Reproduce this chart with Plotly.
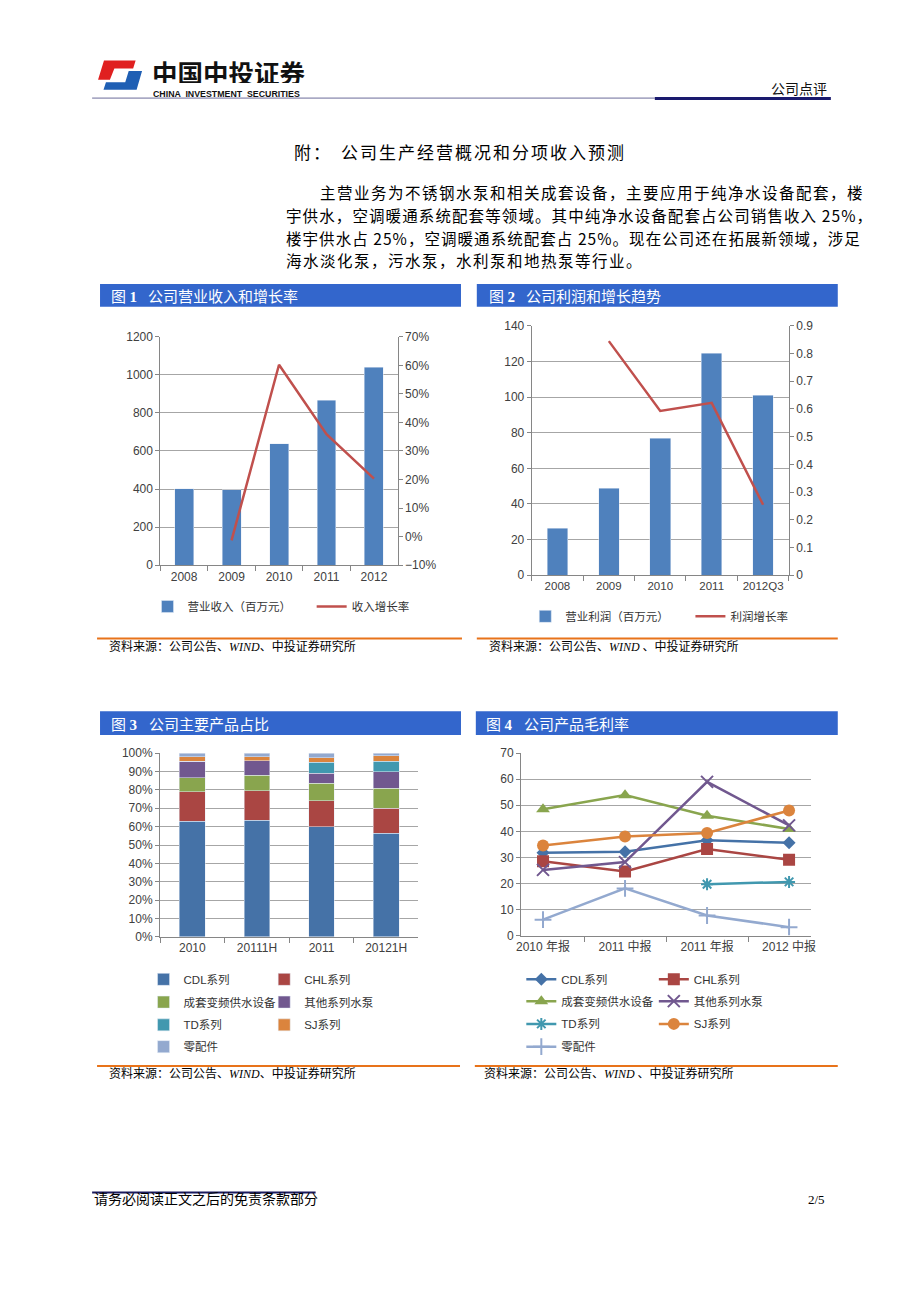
import plotly.graph_objects as go

# The page body has an 8px default margin, so the figure is sized and offset to fill 920x1300 exactly.
PAGE_OFF = 8
FW, FH = 904, 1284


def px(x):
    return (x - PAGE_OFF) / FW


def py(y):
    return 1 - (y - PAGE_OFF) / FH


# ---------------- data ----------------
rev_years = ["2008", "2009", "2010", "2011", "2012"]
revenue = [403, 396, 637, 867, 1039]
rev_growth = [None, -0.013, 0.602, 0.359, 0.203]

profit_years = ["2008", "2009", "2010", "2011", "2012Q3"]
profit = [26.3, 48.7, 77.0, 124.6, 101.0]
profit_growth = [None, 0.845, 0.593, 0.622, 0.254]

product_names = ["CDL系列", "CHL系列", "成套变频供水设备", "其他系列水泵", "TD系列", "SJ系列", "零配件"]

share_periods = ["2010", "20111H", "2011", "20121H"]
share_cdl = [63.0, 63.5, 60.0, 56.5]
share_chl = [16.0, 16.0, 14.0, 13.5]
share_set = [7.5, 8.5, 9.5, 11.0]
share_other = [9.0, 8.0, 5.5, 9.0]
share_td = [0.0, 0.0, 6.0, 5.5]
share_sj = [2.5, 2.0, 2.5, 3.0]
share_parts = [2.0, 2.0, 2.5, 1.5]

margin_periods = ["2010 年报", "2011 中报", "2011 年报", "2012 中报"]
margin_cdl = [31.8, 32.2, 36.6, 35.6]
margin_chl = [28.5, 24.6, 33.2, 29.1]
margin_set = [48.5, 53.9, 46.0, 40.9]
margin_other = [25.2, 28.2, 59.0, 42.3]
margin_td = [None, None, 19.7, 20.6]
margin_sj = [34.6, 38.0, 39.4, 48.0]
margin_parts = [6.1, 18.1, 7.7, 3.2]

# ---------------- styles ----------------
CJK = "Noto Sans CJK SC"
LAT = "Liberation Sans, Arial, Noto Sans CJK SC"
SERIF = "Liberation Serif, Noto Sans CJK SC"
TXT = "#404040"
GRID = "#A6A6A6"
AXIS = "#868686"
prod_colors = ["#4572A7", "#AA4643", "#89A54E", "#71588F", "#4198AF", "#DB843D", "#93A9CF"]
prod_symbols = ["diamond", "square", "triangle-up", "x-thin", "asterisk", "circle", "cross-thin"]
prod_sizes = [10, 12, 12, 12, 10, 12, 12]
LEG_SIZE = 11.5

fig = go.Figure()
legends = {}


def add_legend(idx, x, y, size=LEG_SIZE):
    key = "legend" if idx == 1 else "legend%d" % idx
    legends[key] = dict(
        x=px(x), y=py(y), xanchor="left", yanchor="middle", orientation="h",
        bgcolor="rgba(0,0,0,0)", borderwidth=0, itemwidth=30,
        font=dict(family=LAT, size=size, color="#333333"),
    )
    return key


# ---------------- chart 1 ----------------
fig.add_trace(go.Bar(x=rev_years, y=revenue, name="营业收入（百万元）", marker_color="#4F81BD",
                     xaxis="x", yaxis="y", legend=add_legend(1, 144, 606)))
fig.add_trace(go.Scatter(x=rev_years, y=rev_growth, mode="lines", name="收入增长率",
                         line=dict(color="#C0504D", width=2.5), xaxis="x", yaxis="y2",
                         legend=add_legend(2, 310, 606)))

# ---------------- chart 2 ----------------
fig.add_trace(go.Bar(x=profit_years, y=profit, name="营业利润（百万元）", marker_color="#4F81BD",
                     xaxis="x2", yaxis="y3", legend=add_legend(3, 526, 616)))
fig.add_trace(go.Scatter(x=profit_years, y=profit_growth, mode="lines", name="利润增长率",
                         line=dict(color="#C0504D", width=2.5), xaxis="x2", yaxis="y4",
                         legend=add_legend(4, 693, 616)))

# ---------------- chart 3 ----------------
share_series = [share_cdl, share_chl, share_set, share_other, share_td, share_sj, share_parts]
leg3_pos = [(140, 983), (262, 983), (140, 1006), (262, 1006), (140, 1029), (262, 1029), (140, 1051)]
for i, (nm, vals) in enumerate(zip(product_names, share_series)):
    fig.add_trace(go.Bar(x=share_periods, y=vals, name=nm, marker_color=prod_colors[i],
                         xaxis="x3", yaxis="y5",
                         legend=add_legend(5 + i, leg3_pos[i][0], leg3_pos[i][1])))

# ---------------- chart 4 ----------------
margin_series = [margin_cdl, margin_chl, margin_set, margin_other, margin_td, margin_sj, margin_parts]
leg4_pos = [(522, 983), (656, 983), (522, 1005), (656, 1005), (522, 1028), (656, 1028), (522, 1051)]
for i, (nm, vals) in enumerate(zip(product_names, margin_series)):
    thin = prod_symbols[i] in ("x-thin", "asterisk", "cross-thin")
    fig.add_trace(go.Scatter(
        x=margin_periods, y=vals, name=nm, mode="lines+markers",
        line=dict(color=prod_colors[i], width=2.5),
        marker=dict(symbol=prod_symbols[i], size=prod_sizes[i], color=prod_colors[i],
                    line=dict(color=prod_colors[i], width=2 if thin else 0)),
        xaxis="x4", yaxis="y6",
        legend=add_legend(12 + i, leg4_pos[i][0], leg4_pos[i][1])))

# ---------------- axes ----------------
tickfont = dict(family=LAT, size=12, color=TXT)


def xcat(domain, anchor, size=12):
    return dict(domain=domain, anchor=anchor, type="category", showline=True, linecolor=AXIS,
                ticks="outside", tickson="boundaries", ticklen=5, tickcolor=AXIS, tickangle=0,
                showgrid=False, tickfont=dict(family=LAT, size=size, color=TXT), fixedrange=True)


def yleft(domain, anchor, rng, dtick, **kw):
    d = dict(domain=domain, anchor=anchor, range=rng, dtick=dtick, showline=True, linecolor=AXIS,
             ticks="outside", ticklen=4, tickcolor=AXIS, showgrid=True, gridcolor=GRID,
             zeroline=False, tickfont=tickfont, fixedrange=True)
    d.update(kw)
    return d


def yright(overlay, anchor, rng, dtick, **kw):
    d = dict(overlaying=overlay, anchor=anchor, side="right", range=rng, dtick=dtick,
             showline=True, linecolor=AXIS, ticks="outside", ticklen=4, tickcolor=AXIS,
             showgrid=False, zeroline=False, tickfont=tickfont, fixedrange=True)
    d.update(kw)
    return d


layout_axes = dict(
    xaxis=xcat([px(157), px(397)], "y"),
    yaxis=yleft([py(564.3), py(333.3)], "x", [0, 1200], 200),
    yaxis2=yright("y", "x", [-0.1001, 0.7001], 0.1, tickformat=".0%", tick0=0),
    xaxis2=xcat([px(532.5), px(792.5)], "y3", size=11.5),
    yaxis3=yleft([py(574.3), py(322.3)], "x2", [0, 140], 20),
    yaxis4=yright("y3", "x2", [0, 0.9001], 0.1, tick0=0),
    xaxis3=xcat([px(156.7), px(418)], "y5"),
    yaxis5=yleft([py(940), py(754.3)], "x3", [0, 100.01], 10, ticksuffix="%"),
    xaxis4=xcat([px(521.7), px(815)], "y6"),
    yaxis6=yleft([py(938.7), py(754.3)], "x4", [0, 70.01], 10),
)

# ---------------- shapes ----------------
shapes = []


def line(x0, y0, x1, y1, color, width):
    shapes.append(dict(type="line", xref="paper", yref="paper", x0=px(x0), y0=py(y0),
                       x1=px(x1), y1=py(y1), line=dict(color=color, width=width)))


def rect(x0, y0, x1, y1, color):
    shapes.append(dict(type="rect", xref="paper", yref="paper", x0=px(x0), y0=py(y0),
                       x1=px(x1), y1=py(y1), fillcolor=color, line=dict(width=0)))


def poly(points, color):
    path = "M " + " L ".join("%.5f,%.5f" % (px(a), py(b)) for a, b in points) + " Z"
    shapes.append(dict(type="path", xref="paper", yref="paper", path=path,
                       fillcolor=color, line=dict(width=0)))


# header
poly([(100, 54), (132, 54), (129.5, 62), (110.5, 62), (106, 73.5), (94, 73.5)], "#E02020")
poly([(125, 64.5), (138.5, 64.5), (133, 83.5), (99.5, 83.5), (102, 76), (121.5, 76)], "#1F5FB4")
line(88, 92, 657, 92, "#6B6B9A", 1)
line(657, 92.5, 835, 92.5, "#1A1A6E", 3)

# title bars
BAR_BLUE = "#3366CC"
rect(96, 280, 461, 303, BAR_BLUE)
rect(477, 280, 842, 303, BAR_BLUE)
rect(96, 712, 461, 736, BAR_BLUE)
rect(476, 712, 842, 736, BAR_BLUE)

# source separators
ORANGE = "#E8731A"
line(93, 638.3, 462, 638.3, ORANGE, 2)
line(477, 638.3, 842, 638.3, ORANGE, 2)
line(93, 1070.7, 460, 1070.7, ORANGE, 2)
line(475, 1070.7, 842, 1070.7, ORANGE, 2)

# footer
line(88, 1198.5, 314, 1198.5, "#1A1A5E", 2)

# ---------------- annotations ----------------
annotations = []


def text(x, y, s, size, family=CJK, color="#000000", anchor="left", weight="normal", height=None):
    a = dict(x=px(x), y=py(y), xref="paper", yref="paper", text=s, showarrow=False,
             xanchor=anchor, yanchor="middle",
             font=dict(family=family, size=size, color=color, weight=weight))
    if height:
        a["height"] = height
    annotations.append(a)


def spaced(s, px_gap):
    return "<span style='letter-spacing:%.2fpx'>%s</span>" % (px_gap, s)


text(147, 65, "中国中投证券", 25.5, weight="bold", color="#111111", height=24)
text(148, 87.5, "CHINA  INVESTMENT  SECURITIES", 8.8, family=LAT, weight="bold", color="#111111",
     height=9)
text(833, 82, "公司点评", 14, color="#111111", anchor="right")

text(290, 146, spaced("附：", 2), 17)
text(338, 146, spaced("公司生产经营概况和分项收入预测", 2), 17)

PARA = 15.5
text(316, 187, spaced("主营业务为不锈钢水泵和相关成套设备，主要应用于纯净水设备配套，楼", 1.5), PARA)
text(282, 210.5, spaced("宇供水，空调暖通系统配套等领域。其中纯净水设备配套占公司销售收入 25%，", 1.1), PARA)
text(282, 233.5, spaced("楼宇供水占 25%，空调暖通系统配套占 25%。现在公司还在拓展新领域，涉足", 1.05), PARA)
text(282, 256, spaced("海水淡化泵，污水泵，水利泵和地热泵等行业。", 1.5), PARA)

# bar titles
SER = "<span style='font-family:Liberation Serif'>%s</span>"
for (x1, x2, y, num, title) in [
    (105, 142, 291.5, "1", "公司营业收入和增长率"),
    (487, 525, 291.5, "2", "公司利润和增长趋势"),
    (105, 143, 724, "3", "公司主要产品占比"),
    (484, 523, 724, "4", "公司产品毛利率"),
]:
    text(x1, y, "图 " + SER % ("<b>%s</b>" % num), 15, color="#FFFFFF")
    text(x2, y, title, 15, color="#FFFFFF")

W_I = SER % "<i>WIND</i>"
text(103, 645, "资料来源：公司公告、" + W_I + "、中投证券研究所", 12)
text(487, 645, "资料来源：公司公告、" + W_I + " 、中投证券研究所", 12)
text(103, 1077, "资料来源：公司公告、" + W_I + "、中投证券研究所", 12)
text(482, 1077, "资料来源：公司公告、" + W_I + " 、中投证券研究所", 12)

text(88, 1204, "请务必阅读正文之后的免责条款部分", 14)
text(831, 1206, "2/5", 13, family=SERIF, anchor="right")

fig.update_layout(
    width=FW, height=FH, margin=dict(l=0, r=0, t=0, b=0),
    paper_bgcolor="white", plot_bgcolor="rgba(0,0,0,0)",
    barmode="stack", bargap=0.6, showlegend=True,
    shapes=shapes, annotations=annotations,
    **layout_axes, **legends,
)

fig.write_html("out.html")
